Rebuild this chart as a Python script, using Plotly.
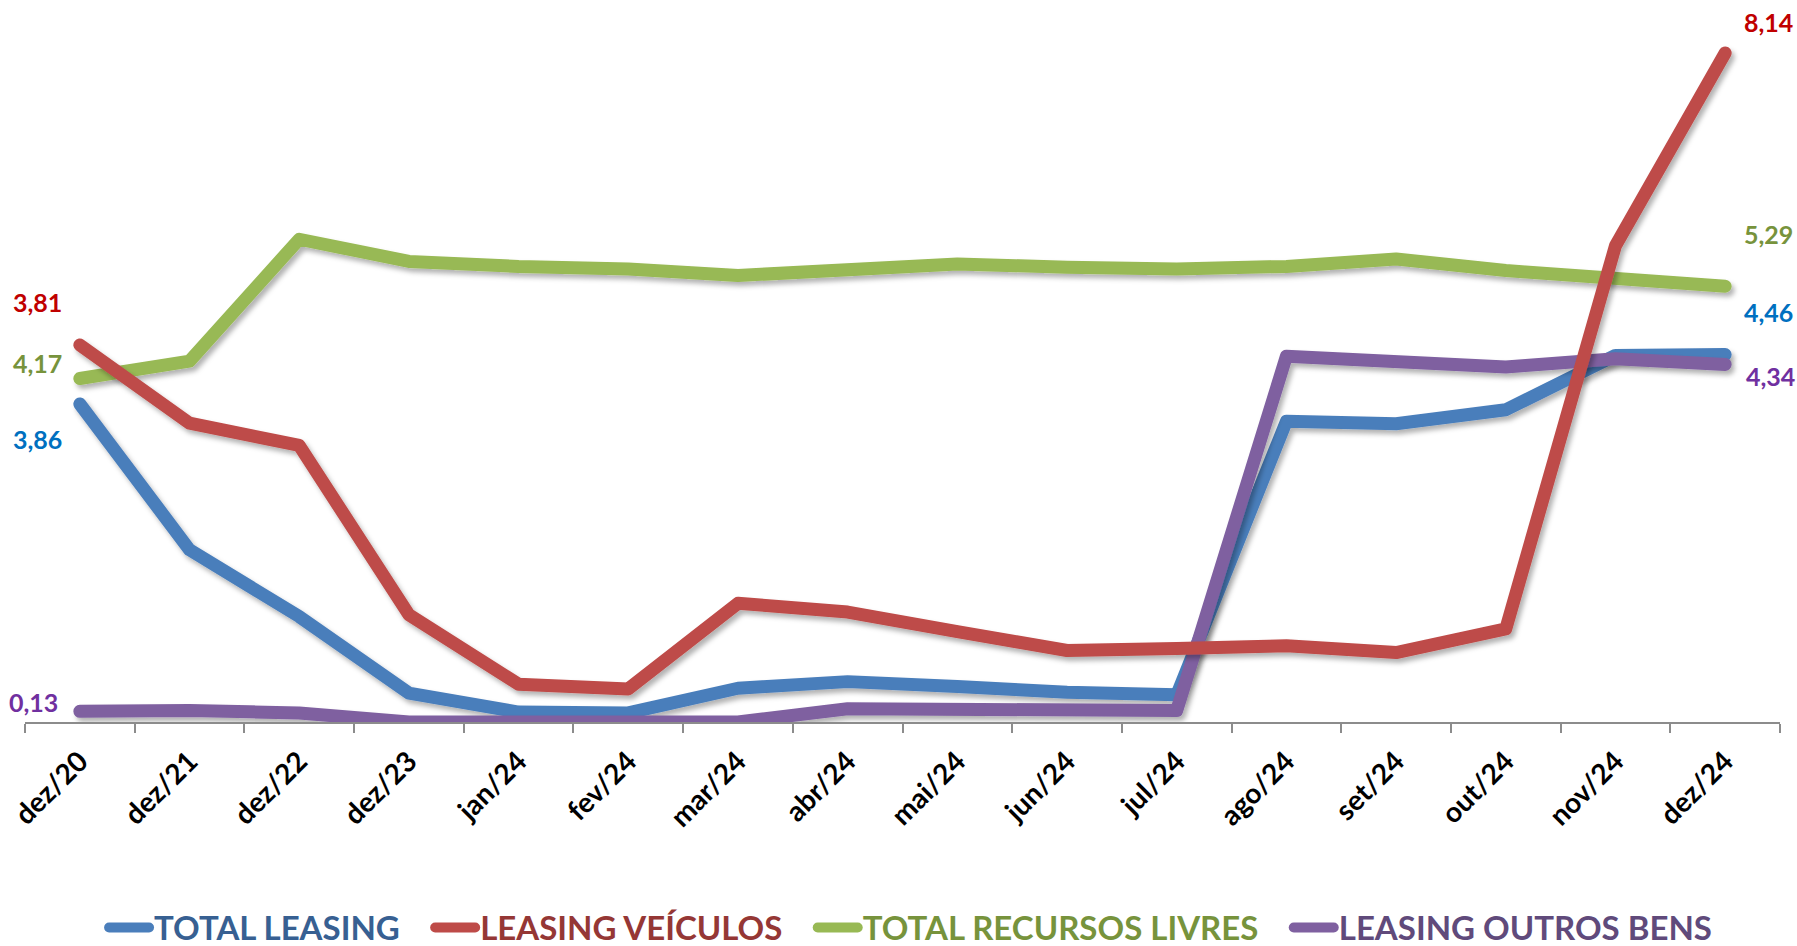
import plotly.graph_objects as go

# categories and series
meses = ["dez/20", "dez/21", "dez/22", "dez/23", "jan/24", "fev/24", "mar/24", "abr/24",
         "mai/24", "jun/24", "jul/24", "ago/24", "set/24", "out/24", "nov/24", "dez/24"]

total_leasing = [3.86, 2.09, 1.28, 0.35, 0.12, 0.11, 0.41, 0.49, 0.43, 0.36, 0.33,
                 3.65, 3.62, 3.79, 4.45, 4.46]
leasing_veiculos = [3.81, 2.65, 2.32, -0.19, -1.22, -1.29, -0.02, -0.15, -0.44, -0.72,
                    -0.69, -0.65, -0.75, -0.40, 5.28, 8.14]
recursos_livres = [4.17, 4.38, 5.86, 5.59, 5.53, 5.50, 5.42, 5.48, 5.56, 5.52, 5.50,
                   5.53, 5.62, 5.48, 5.38, 5.29]
outros_bens = [0.13, 0.14, 0.11, 0.0, 0.0, 0.0, 0.0, 0.16, 0.16, 0.16, 0.14,
               4.44, 4.37, 4.31, 4.41, 4.34]

FONT = "Lato"

# name, values, line colour, legend text colour, label colour, axis
series = [
    ("TOTAL LEASING", total_leasing, "#4A7EBB", "#376092", "#0070C0", "y"),
    ("LEASING VEÍCULOS", leasing_veiculos, "#BE4B48", "#953735", "#C00000", "y2"),
    ("TOTAL RECURSOS LIVRES", recursos_livres, "#98B954", "#77933C", "#77933C", "y"),
    ("LEASING OUTROS BENS", outros_bens, "#7F60A0", "#604A7B", "#7030A0", "y"),
]

# label offsets (px) for first / last value labels
first_shift = {"TOTAL LEASING": (-42, -35), "LEASING VEÍCULOS": (-42, 43),
               "TOTAL RECURSOS LIVRES": (-42, 15), "LEASING OUTROS BENS": (-46, 9)}
last_shift = {"TOTAL LEASING": (43, 43), "LEASING VEÍCULOS": (43, 31),
              "TOTAL RECURSOS LIVRES": (43, 52), "LEASING OUTROS BENS": (45, -12)}

fig = go.Figure()
annotations = []
for name, vals, col, txtcol, labcol, ax in series:
    fig.add_trace(go.Scatter(
        x=meses, y=vals, mode="lines", yaxis=ax,
        name="<b><span style='color:%s'>%s</span></b>&nbsp;&nbsp;&nbsp;" % (txtcol, name),
        line=dict(color=col, width=13),
    ))
    for idx, shifts in ((0, first_shift), (-1, last_shift)):
        annotations.append(dict(
            x=meses[idx], y=vals[idx], xref="x", yref=ax,
            text="<b>%s</b>" % ("%.2f" % vals[idx]).replace(".", ","),
            showarrow=False, xshift=shifts[name][0], yshift=shifts[name][1],
            font=dict(family=FONT, size=25, color=labcol),
        ))

fig.update_layout(
    width=1797, height=946,
    margin=dict(l=25, r=17, t=30, b=224, autoexpand=False),
    paper_bgcolor="white", plot_bgcolor="white",
    showlegend=True,
    legend=dict(
        orientation="h", x=0.512, xanchor="center", y=-0.297, yanchor="middle",
        font=dict(family=FONT, size=33),
        itemwidth=40, tracegroupgap=0,
    ),
    xaxis=dict(
        type="category", range=[-0.5, 15.5],
        showline=True, linecolor="#8C8C8C", linewidth=1.5,
        ticks="outside", tickson="boundaries", ticklen=9, tickcolor="#8C8C8C", tickwidth=1.5,
        tickangle=-45, showgrid=False, zeroline=False, ticklabelstandoff=10,
        tickfont=dict(family=FONT, size=28, color="black", weight="bold"),
    ),
    yaxis=dict(range=[0, 8.40], visible=False, showgrid=False, zeroline=False),
    yaxis2=dict(range=[-1.78, 8.48], overlaying="y", visible=False,
                showgrid=False, zeroline=False),
    annotations=annotations,
)

post = """
document.body.style.margin = '0';
var gd = document.getElementById('{plot_id}');
function styleLines() {
  var svg = gd.querySelector('svg.main-svg');
  if (!svg) return;
  var ns = 'http://www.w3.org/2000/svg';
  if (!document.getElementById('lnshadow')) {
    var defs = svg.querySelector('defs') || svg.insertBefore(document.createElementNS(ns, 'defs'), svg.firstChild);
    var f = document.createElementNS(ns, 'filter');
    f.setAttribute('id', 'lnshadow');
    f.setAttribute('filterUnits', 'userSpaceOnUse');
    f.setAttribute('x', '-500'); f.setAttribute('y', '-500');
    f.setAttribute('width', '3000'); f.setAttribute('height', '2000');
    var d = document.createElementNS(ns, 'feDropShadow');
    d.setAttribute('dx', '3'); d.setAttribute('dy', '4');
    d.setAttribute('stdDeviation', '2.5');
    d.setAttribute('flood-color', '#000'); d.setAttribute('flood-opacity', '0.3');
    f.appendChild(d); defs.appendChild(f);
  }
  gd.querySelectorAll('.scatterlayer .js-line').forEach(function (p) {
    p.style.strokeLinecap = 'round'; p.style.strokeLinejoin = 'round';
    p.setAttribute('filter', 'url(#lnshadow)');
  });
  gd.querySelectorAll('.legend .js-line').forEach(function (p) {
    p.style.strokeLinecap = 'round';
  });
}
styleLines();
gd.on('plotly_afterplot', styleLines);
"""

fig.write_html("out.html", post_script=post, config={"displayModeBar": False})
